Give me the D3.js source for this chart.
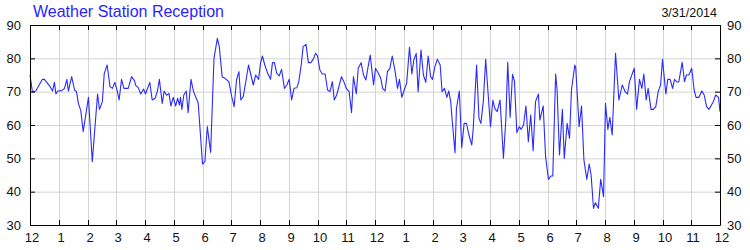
<!DOCTYPE html>
<html><head><meta charset="utf-8">
<script src="https://cdn.jsdelivr.net/npm/d3@7"></script>
<style>body{margin:0;background:#fff}svg{display:block}text{font-family:"Liberation Sans",Arial,sans-serif}</style>
</head><body><script>
const title = "Weather Station Reception";
const dateLabel = "3/31/2014";
const hourLabels = ["12","1","2","3","4","5","6","7","8","9","10","11","12","1","2","3","4","5","6","7","8","9","10","11","12"];
const yTicks = [30,40,50,60,70,80,90];
// minutes since midnight
const minutes = [0,5,12,26,30,42,47,51,54,58,66,72,77,80,87,93,97,101,106,111,122,130,141,145,151,155,161,167,172,177,182,186,191,196,205,212,218,221,226,231,237,241,250,255,261,266,270,276,280,285,290,294,299,304,308,312,314,317,321,326,330,336,341,346,351,
360,365,370,377,384,391,395,401,407,415,421,426,431,436,440,445,451,456,461,466,471,477,481,485,490,496,502,506,510,515,520,525,531,536,541,546,551,557,561,566,570,576,581,586,591,596,600,605,610,616,621,626,631,635,640,645,650,655,660,666,671,675,681,685,691,696,701,705,710,
717,721,727,732,736,741,746,751,756,762,767,771,776,781,786,792,797,801,806,810,816,821,826,831,836,840,845,850,856,860,865,870,874,878,881,885,887,890,896,901,906,911,916,922,925,932,937,941,946,951,957,961,966,970,975,981,988,993,997,1002,1007,1011,1016,1021,1025,1030,1035,1040,1045,1050,1055,1061,1064,
1071,1076,1082,1087,1091,1097,1100,1105,1111,1115,1121,1126,1130,1137,1139,1146,1151,1156,1162,1167,1171,1176,1180,1186,1191,1197,1201,1206,1210,1215,1222,1229,1236,1242,1247,1251,1261,1266,1272,1277,1281,1286,1290,1296,1301,1306,1311,1316,1320,1327,1331,1336,1341,1345,1350,1354,1361,1366,1370,1375,1381,1386,1390,1396,1402,1407,1412,1417,1421,1426,1431,1437,1440];
const reception = [75.0,70.0,70.2,73.7,73.7,71.5,70.2,72.8,69.3,70.2,70.3,71.0,73.7,70.2,74.5,70.5,70.0,66.5,64.3,58.0,68.3,49.0,69.3,64.7,67.0,75.5,78.0,71.5,71.0,72.8,70.3,67.5,73.7,71.0,71.0,74.5,73.3,71.8,71.2,69.3,70.8,69.3,72.8,67.5,68.0,70.2,73.7,66.5,70.2,68.9,69.5,65.7,68.3,65.7,68.0,66.0,68.3,64.7,69.0,70.2,63.7,73.7,70.2,68.3,66.7,
48.3,49.0,59.5,51.8,80.0,86.0,83.5,74.5,74.0,73.0,68.5,65.5,73.5,76.0,67.5,68.5,73.5,78.0,75.0,72.0,75.0,73.7,78.5,80.7,78.0,75.5,73.7,78.7,78.7,75.5,74.7,76.7,71.0,72.0,73.7,67.5,71.0,71.2,73.0,78.0,83.5,84.2,78.7,78.7,79.7,81.5,80.7,76.5,75.3,75.3,70.5,70.0,73.0,67.5,69.0,71.7,74.5,73.0,71.0,70.0,63.7,74.5,69.3,77.0,78.7,75.0,73.5,77.0,81.0,
72.0,77.0,75.5,74.0,71.0,70.2,76.0,77.0,80.7,76.0,71.0,73.7,68.3,70.5,72.5,83.3,75.3,79.5,81.5,70.0,82.5,75.0,72.8,80.7,74.5,73.7,77.5,79.7,78.0,70.0,71.0,68.3,70.2,67.0,61.5,55.0,51.7,65.0,70.2,53.2,60.5,60.5,57.0,54.0,59.0,78.0,62.0,60.5,67.0,79.7,67.5,59.5,67.5,65.0,64.0,67.5,50.0,61.5,78.8,62.3,75.2,73.2,57.7,59.5,58.7,60.0,65.7,55.0,63.0,52.3,67.0,69.3,61.5,
65.7,50.5,43.7,44.7,44.7,75.3,70.5,51.0,64.7,50.0,60.5,56.0,70.5,78.0,77.0,59.5,65.7,49.5,43.7,48.3,45.0,35.0,36.7,35.0,43.7,38.5,66.5,58.7,62.3,57.0,81.5,67.5,72.0,70.0,69.3,73.0,77.0,64.7,73.7,71.0,75.3,67.5,71.0,64.7,64.7,65.5,70.0,72.0,79.7,69.3,73.7,73.7,71.0,73.7,72.9,72.9,78.8,73.0,75.0,75.0,77.0,70.5,68.3,68.3,70.2,69.0,65.5,64.7,65.7,67.0,69.0,68.3,64.0];

const W = 750, H = 250;
const L = 30, R = 720, T = 25, B = 225;
const svg = d3.select("body").append("svg").attr("width", W).attr("height", H);

const x = d3.scaleLinear().domain([0, 1440]).range([L, R]);
const y = d3.scaleLinear().domain([30, 90]).range([B, T]);
const xr = x.copy().interpolate(d3.interpolateRound);
const hours = hourLabels.map((_, i) => i * 60);

// grid
const grid = svg.append("g").attr("stroke", "#d4d4d4").attr("stroke-width", 1);
grid.selectAll("line.v").data(hours.slice(1, -1)).join("line").attr("class","v")
  .attr("x1", d => xr(d) + 0.5).attr("x2", d => xr(d) + 0.5).attr("y1", T).attr("y2", B);
grid.selectAll("line.h").data(yTicks.slice(1, -1)).join("line").attr("class","h")
  .attr("y1", d => y(d) + 0.5).attr("y2", d => y(d) + 0.5).attr("x1", L).attr("x2", R);

// data line
svg.append("path")
  .datum(minutes.map((m, i) => [m, reception[i]]))
  .attr("fill", "none").attr("stroke", "#2a2aff").attr("stroke-width", 1.1)
  .attr("stroke-linejoin", "round")
  .attr("d", d3.line().x(d => x(d[0])).y(d => y(d[1])));

function style(g) {
  g.attr("font-size", 13).attr("font-family", '"Liberation Sans",Arial,sans-serif');
  g.selectAll("text").attr("fill", "#111");
  g.selectAll("line,path").attr("stroke", "#000");
}
svg.append("g").attr("transform", `translate(0,${B})`)
  .call(d3.axisBottom(xr).tickValues(hours).tickFormat((d, i) => hourLabels[i]).tickSizeInner(-5).tickSizeOuter(0).tickPadding(8))
  .call(style).call(g => g.selectAll("text").attr("dx", 1.5));
svg.append("g").attr("transform", `translate(0,${T})`)
  .call(d3.axisTop(xr).tickValues(hours).tickFormat("").tickSizeInner(-5).tickSizeOuter(0))
  .call(style);
svg.append("g").attr("transform", `translate(${L},0)`)
  .call(d3.axisLeft(y).tickValues(yTicks).tickFormat(d3.format("d")).tickSizeInner(-5).tickSizeOuter(0).tickPadding(9))
  .call(style);
svg.append("g").attr("transform", `translate(${R},0)`)
  .call(d3.axisRight(y).tickValues(yTicks).tickFormat(d3.format("d")).tickSizeInner(-5).tickSizeOuter(0).tickPadding(7))
  .call(style);

svg.append("text").attr("x", 33).attr("y", 17).attr("font-size", 16).attr("fill", "#2a1fff").text(title);
svg.append("text").attr("x", 717).attr("y", 17).attr("text-anchor", "end").attr("font-size", 12.5).attr("fill", "#111").text(dateLabel);
</script></body></html>
